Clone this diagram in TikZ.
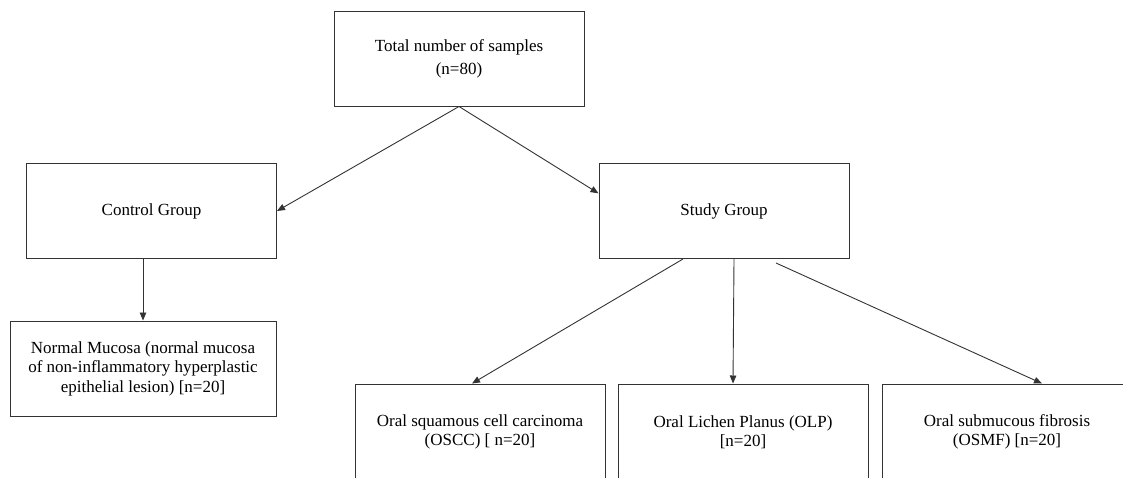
\documentclass[tikz,border=0pt]{standalone}
\usepackage{fontspec}
\setmainfont{Liberation Serif}
\newfontfamily\boxfont{Liberation Serif}
\usetikzlibrary{arrows.meta}
\begin{document}
\begin{tikzpicture}[x=1pt,y=-1pt,
		box/.style={draw=black!80, line width=1pt, align=center, minimum width=250pt, minimum height=95pt, font=\boxfont\fontsize{17}{19.5}\selectfont},
		arr/.style={draw=black!80, line width=0.9pt, -{Triangle[length=8pt,width=6.5pt]}}]
		\useasboundingbox (0,0) rectangle (1123,477);
		\clip (0,0) rectangle (1123,477);
		\node[box, font=\boxfont\fontsize{17}{23}\selectfont] (total) at (459,58.5) {Total number of samples\\(n=80)};
		\node[box] (control) at (151.5,211) {Control Group};
		\node[box] (study) at (724,211) {Study Group};
		\node[box, minimum width=266pt] (normal) at (143,368.5) {Normal Mucosa (normal mucosa\\of non-inflammatory hyperplastic\\epithelial lesion) [n=20]};
		\node[box, minimum height=96pt] (oscc) at (480,432) {Oral squamous cell carcinoma\\(OSCC) [ n=20]};
		\node[box, minimum height=96pt] (olp) at (743,432) {Oral Lichen Planus (OLP)\\{}[n=20]};
		\node[box, minimum height=96pt] (osmf) at (1007,432) {Oral submucous fibrosis\\(OSMF) [n=20]};
		\draw[arr] (total.south) -- (control.east);
		\draw[arr] (total.south) -- (study.172);
		\draw[arr] ([xshift=-8.5pt]control.south) -- (normal.north);
		\draw[arr] ([xshift=-41pt]study.south) -- ([xshift=-8pt]oscc.north);
		\draw[arr] ([xshift=10pt]study.south) -- ([xshift=-10pt]olp.north);
		\draw[arr] ([xshift=52pt,yshift=-4pt]study.south) -- ([xshift=35pt]osmf.north);
	\end{tikzpicture}
\end{document}
